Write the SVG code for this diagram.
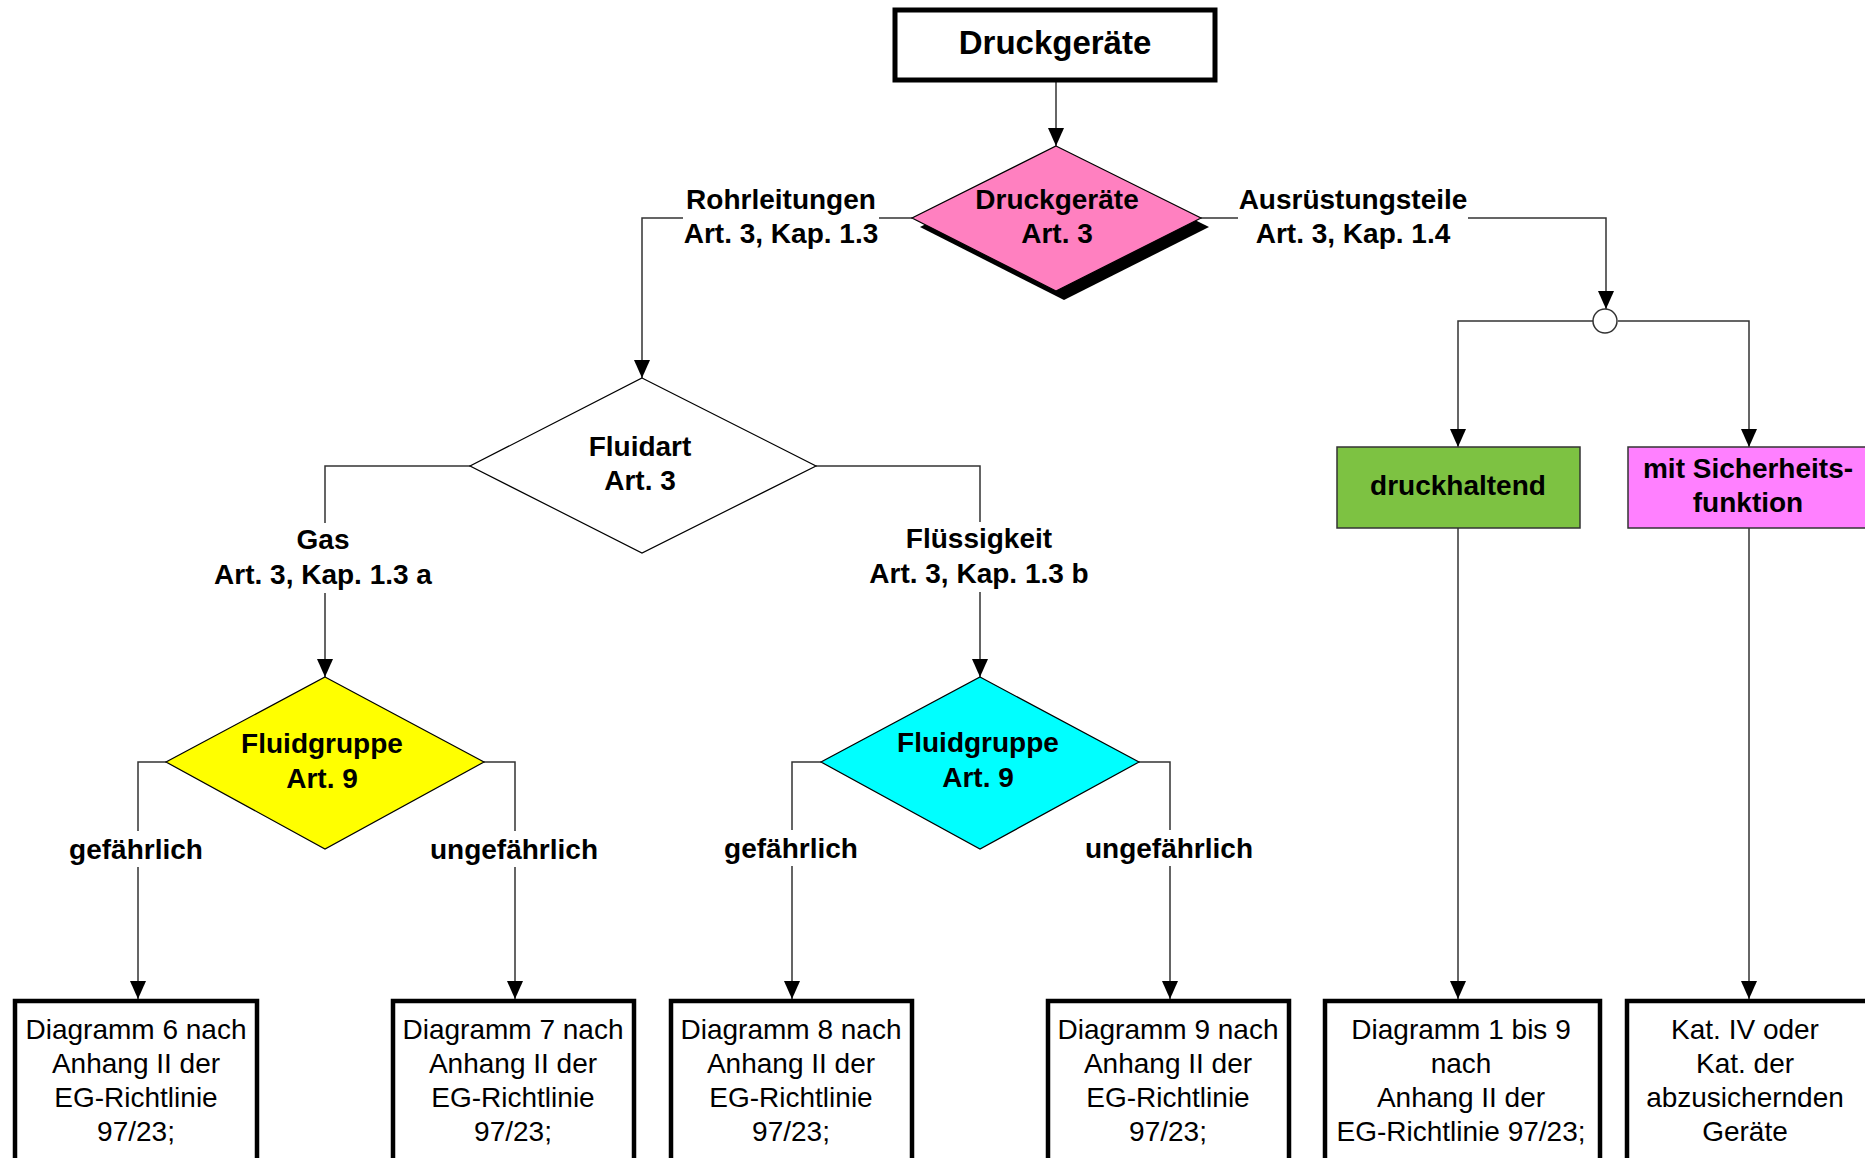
<svg xmlns="http://www.w3.org/2000/svg" width="1865" height="1158" viewBox="0 0 1865 1158">
<style>
  .lbl { font-family: "Liberation Sans", Arial, sans-serif; font-weight: bold; font-size: 28px; text-anchor: middle; fill: #000; }
  .reg { font-family: "Liberation Sans", Arial, sans-serif; font-size: 28px; text-anchor: middle; fill: #000; }
  .title { font-family: "Liberation Sans", Arial, sans-serif; font-weight: bold; font-size: 33px; text-anchor: middle; fill: #000; }
  .conn { fill: none; stroke: #333; stroke-width: 1.5; marker-end: url(#arr); }
  .dia { stroke: #000; stroke-width: 1.2; }
  .res { fill: #fff; stroke: #000; stroke-width: 4.5; }
  .bg { fill: #fff; stroke: none; }
</style>
<defs>
  <marker id="arr" viewBox="0 0 18 16" refX="18" refY="8" markerWidth="18" markerHeight="16" markerUnits="userSpaceOnUse" orient="auto">
    <path d="M0,0 L18,8 L0,16 z" fill="#000"/>
  </marker>
</defs>
<rect x="0" y="0" width="1865" height="1158" fill="#fff"/>

<g id="connectors">
  <path class="conn" d="M1056,81 V146"/>
  <path class="conn" d="M912,218 H642 V378"/>
  <path class="conn" d="M1201,218 H1606 V309"/>
  <path class="conn" d="M1593,321 H1458 V447"/>
  <path class="conn" d="M1618,321 H1749 V447"/>
  <path class="conn" d="M470,466 H325 V677"/>
  <path class="conn" d="M816,466 H980 V677"/>
  <path class="conn" d="M166,762 H138 V999"/>
  <path class="conn" d="M484,762 H515 V999"/>
  <path class="conn" d="M821,762 H792 V999"/>
  <path class="conn" d="M1139,762 H1170 V999"/>
  <path class="conn" d="M1458,528 V999"/>
  <path class="conn" d="M1749,528 V999"/>
</g>

<g id="edge-labels">
  <rect class="bg" x="683" y="184" width="196" height="68"/>
  <text class="lbl" x="781" y="209">Rohrleitungen</text>
  <text class="lbl" x="781" y="243">Art. 3, Kap. 1.3</text>

  <rect class="bg" x="1238" y="184" width="230" height="68"/>
  <text class="lbl" x="1353" y="209">Ausrüstungsteile</text>
  <text class="lbl" x="1353" y="243">Art. 3, Kap. 1.4</text>

  <rect class="bg" x="210" y="523" width="230" height="70"/>
  <text class="lbl" x="323" y="549">Gas</text>
  <text class="lbl" x="323" y="584">Art. 3, Kap. 1.3 a</text>

  <rect class="bg" x="866" y="522" width="228" height="70"/>
  <text class="lbl" x="979" y="548">Flüssigkeit</text>
  <text class="lbl" x="979" y="583">Art. 3, Kap. 1.3 b</text>

  <rect class="bg" x="66" y="831" width="140" height="36"/>
  <text class="lbl" x="136" y="859">gefährlich</text>
  <rect class="bg" x="428" y="831" width="174" height="36"/>
  <text class="lbl" x="514" y="859">ungefährlich</text>
  <rect class="bg" x="721" y="830" width="140" height="36"/>
  <text class="lbl" x="791" y="858">gefährlich</text>
  <rect class="bg" x="1083" y="830" width="174" height="36"/>
  <text class="lbl" x="1169" y="858">ungefährlich</text>
</g>

<g id="n-druckgeraete">
  <rect x="895" y="10" width="320" height="70" fill="#fff" stroke="#000" stroke-width="5"/>
  <text class="title" x="1055" y="54">Druckgeräte</text>
</g>

<g id="n-art3">
  <polygon points="1064,155 1209,227 1064,300 920,227" fill="#000"/>
  <polygon class="dia" points="1056,146 1201,218 1056,291 912,218" fill="#FF80C0"/>
  <text class="lbl" x="1057" y="209">Druckgeräte</text>
  <text class="lbl" x="1057" y="243">Art. 3</text>
</g>

<g id="n-fluidart">
  <polygon class="dia" points="642,378 816,466 642,553 470,466" fill="#fff"/>
  <text class="lbl" x="640" y="456">Fluidart</text>
  <text class="lbl" x="640" y="490">Art. 3</text>
</g>

<g id="n-junction">
  <circle cx="1605" cy="321" r="12" fill="#fff" stroke="#333" stroke-width="1.5"/>
</g>

<g id="n-druckhaltend">
  <rect x="1337" y="447" width="243" height="81" fill="#7DC242" stroke="#333" stroke-width="1.5"/>
  <text class="lbl" x="1458" y="495">druckhaltend</text>
</g>

<g id="n-sicherheit">
  <rect x="1628" y="447" width="245" height="81" fill="#FF80FF" stroke="#333" stroke-width="1.5"/>
  <text class="lbl" x="1748" y="478">mit Sicherheits-</text>
  <text class="lbl" x="1748" y="512">funktion</text>
</g>

<g id="n-fluidgruppe-gas">
  <polygon class="dia" points="325,677 484,762 325,849 166,762" fill="#FFFF00"/>
  <text class="lbl" x="322" y="753">Fluidgruppe</text>
  <text class="lbl" x="322" y="788">Art. 9</text>
</g>

<g id="n-fluidgruppe-fl">
  <polygon class="dia" points="980,677 1139,762 980,849 821,762" fill="#00FFFF"/>
  <text class="lbl" x="978" y="752">Fluidgruppe</text>
  <text class="lbl" x="978" y="787">Art. 9</text>
</g>

<g id="n-diag6">
  <rect class="res" x="15" y="1001" width="242" height="180"/>
  <text class="reg" x="136" y="1039">Diagramm 6 nach</text>
  <text class="reg" x="136" y="1073">Anhang II der</text>
  <text class="reg" x="136" y="1107">EG-Richtlinie</text>
  <text class="reg" x="136" y="1141">97/23;</text>
</g>

<g id="n-diag7">
  <rect class="res" x="393" y="1001" width="241" height="180"/>
  <text class="reg" x="513" y="1039">Diagramm 7 nach</text>
  <text class="reg" x="513" y="1073">Anhang II der</text>
  <text class="reg" x="513" y="1107">EG-Richtlinie</text>
  <text class="reg" x="513" y="1141">97/23;</text>
</g>

<g id="n-diag8">
  <rect class="res" x="671" y="1001" width="241" height="180"/>
  <text class="reg" x="791" y="1039">Diagramm 8 nach</text>
  <text class="reg" x="791" y="1073">Anhang II der</text>
  <text class="reg" x="791" y="1107">EG-Richtlinie</text>
  <text class="reg" x="791" y="1141">97/23;</text>
</g>

<g id="n-diag9">
  <rect class="res" x="1048" y="1001" width="241" height="180"/>
  <text class="reg" x="1168" y="1039">Diagramm 9 nach</text>
  <text class="reg" x="1168" y="1073">Anhang II der</text>
  <text class="reg" x="1168" y="1107">EG-Richtlinie</text>
  <text class="reg" x="1168" y="1141">97/23;</text>
</g>

<g id="n-diag1-9">
  <rect class="res" x="1325" y="1001" width="275" height="180"/>
  <text class="reg" x="1461" y="1039">Diagramm 1 bis 9</text>
  <text class="reg" x="1461" y="1073">nach</text>
  <text class="reg" x="1461" y="1107">Anhang II der</text>
  <text class="reg" x="1461" y="1141">EG-Richtlinie 97/23;</text>
</g>

<g id="n-kat4">
  <rect class="res" x="1627" y="1001" width="250" height="180"/>
  <text class="reg" x="1745" y="1039">Kat. IV oder</text>
  <text class="reg" x="1745" y="1073">Kat. der</text>
  <text class="reg" x="1745" y="1107">abzusichernden</text>
  <text class="reg" x="1745" y="1141">Geräte</text>
</g>
</svg>
